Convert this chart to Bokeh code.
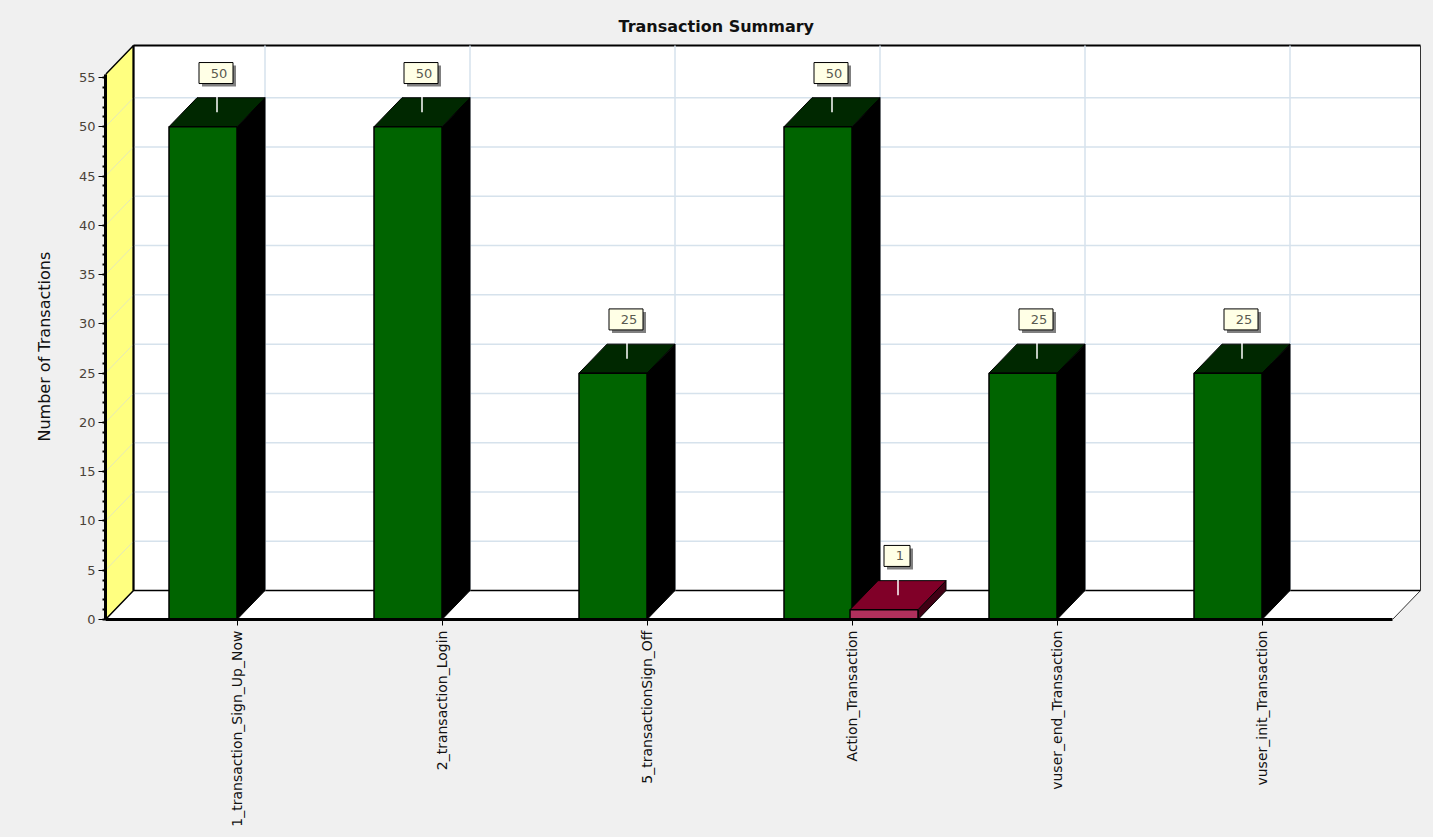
from bokeh.plotting import figure
from bokeh.models import Range1d, FixedTicker, SingleIntervalTicker, Title
from bokeh.core.properties import value
from bokeh.embed import file_html
from bokeh.resources import INLINE
import math

categories = ["1_transaction_Sign_Up_Now", "2_transaction_Login", "5_transactionSign_Off",
              "Action_Transaction", "vuser_end_Transaction", "vuser_init_Transaction"]
pass_counts = [50, 50, 25, 50, 25, 25]
fail_counts = [0, 0, 0, 1, 0, 0]
chart_title = "Transaction Summary"
y_title = "Number of Transactions"

BG = "#f0f0f0"
GRID = "#d6e2ec"
FONT = "DejaVu Sans"
PX_X = 205.0   # pixels per category
PX_Y = 9.855   # pixels per transaction
C0 = 236.5     # pixel of the first category
DX = 28 / PX_X
DY = 29 / PX_Y
BW = 68 / PX_X
XL = (105 - C0) / PX_X
XR = (1392 - C0) / PX_X
YT = 55.3

p = figure(width=1433, height=837, output_backend="svg", toolbar_location=None,
           x_range=Range1d(XL, (1425 - C0) / PX_X), y_range=Range1d(0, (619 - 40) / PX_Y),
           min_border_left=105, min_border_right=8, min_border_top=40, min_border_bottom=218,
           background_fill_color=BG, border_fill_color=BG, outline_line_color=None,
           title=None)
p.grid.visible = False

# walls and floor
p.patch([XL + DX, XR + DX, XR + DX, XL + DX], [DY, DY, YT + DY, YT + DY],
        fill_color="white", line_color=None)
p.patch([XL, XR, XR + DX, XL + DX], [0, 0, DY, DY], fill_color="white", line_color=None)
p.patch([XL, XL + DX, XL + DX, XL], [0, DY, YT + DY, YT],
        fill_color="#ffff80", line_color="black", line_width=1.5)

# grid
grid_vals = list(range(5, 55, 5))
p.segment([XL] * len(grid_vals), grid_vals, [XL + DX] * len(grid_vals), [g + DY for g in grid_vals],
          line_color="#e4e8b8", line_width=1)
grid_vals = list(range(5, 51, 5))
p.segment([XL + DX] * len(grid_vals), [g + DY for g in grid_vals],
          [XR + DX] * len(grid_vals), [g + DY for g in grid_vals], line_color=GRID, line_width=1.5)

# frame lines
p.segment([XL + DX, XL + DX, XR + DX, XR], [DY, YT + DY, DY, 0],
          [XR + DX, XR + DX, XR + DX, XR + DX], [DY, YT + DY, YT + DY, DY],
          line_color=["black", "black", "#333333", "#333333"],
          line_width=[1.5, 2, 1, 1])
p.segment([XL + DX], [DY], [XL + DX], [YT + DY], line_color="black", line_width=2)
cats_x = list(range(len(categories)))
p.segment([i + DX for i in cats_x], [DY] * len(cats_x), [i + DX for i in cats_x], [YT + DY] * len(cats_x),
          line_color=GRID, line_width=1.5)


def bar3d(x0, x1, v, front, top, side):
    p.patch([x1, x1 + DX, x1 + DX, x1], [0, DY, v + DY, v], fill_color=side, line_color="black", line_width=1)
    p.patch([x0, x1, x1 + DX, x0 + DX], [v, v, v + DY, v + DY], fill_color=top, line_color="black", line_width=1)
    p.patch([x0, x1, x1, x0], [0, 0, v, v], fill_color=front, line_color="black", line_width=1.5)


def callout(x0, x1, v):
    cx = (x0 + x1) / 2 + DX / 2
    label = str(v)
    w = 18 + 8 * len(label)
    by = v + 5.45
    p.segment([cx], [v + DY / 2], [cx], [by], line_color="white", line_width=1.5)
    p.rect([cx - 1 / PX_X + 3 / PX_X], [by - 3 / PX_Y], width=w, height=21,
           width_units="screen", height_units="screen", fill_color="#808080", line_color=None)
    p.rect([cx - 1 / PX_X], [by], width=w, height=21, width_units="screen", height_units="screen",
           fill_color="#ffffe6", line_color="black", line_width=1)
    p.text([cx], [by], text=[label], x_offset=2, text_align="center", text_baseline="middle",
           text_font=value(FONT), text_font_size="13px", text_color="#5a5a50")


for i, (ok, bad) in enumerate(zip(pass_counts, fail_counts)):
    if ok > 0:
        bar3d(i - BW, i, ok, "#006400", "#002800", "#000000")
    if bad > 0:
        bar3d(i - 2 / PX_X, i - 2 / PX_X + BW, bad, "#b0305c", "#800028", "#400014")
for i, (ok, bad) in enumerate(zip(pass_counts, fail_counts)):
    if ok > 0:
        callout(i - BW, i, ok)
    if bad > 0:
        callout(i - 2 / PX_X, i - 2 / PX_X + BW, bad)

# axes
xa = p.xaxis[0]
xa.ticker = FixedTicker(ticks=cats_x)
xa.major_label_overrides = {i: c for i, c in enumerate(categories)}
xa.major_label_orientation = math.pi / 2
xa.major_label_text_font = FONT
xa.major_label_text_font_size = "14px"
xa.major_label_text_color = "#111111"
xa.major_label_standoff = 5
xa.major_tick_in = 0
xa.major_tick_out = 6
xa.major_tick_line_color = "black"
xa.minor_tick_line_color = None
xa.axis_line_color = "black"
xa.axis_line_width = 3
xa.bounds = (XL, XR)

ya = p.yaxis[0]
ya.ticker = SingleIntervalTicker(interval=5, num_minor_ticks=5)
ya.bounds = (0, YT)
ya.axis_line_color = "black"
ya.axis_line_width = 3
ya.major_tick_in = 0
ya.major_tick_out = 7
ya.minor_tick_in = 0
ya.minor_tick_out = 3
ya.major_tick_line_color = "black"
ya.minor_tick_line_color = "black"
ya.minor_tick_line_width = 2
ya.major_label_text_font = FONT
ya.major_label_text_font_size = "13px"
ya.major_label_text_color = "#4a4238"
ya.major_label_standoff = 3

t_y = Title(text=y_title, align="left", offset=178, standoff=40, vertical_align="top",
            text_font=FONT, text_font_style="normal", text_font_size="16px", text_color="#111111")
p.add_layout(t_y, "left")

t = Title(text=chart_title, align="left", offset=513, text_font=FONT, text_font_style="bold",
          text_font_size="16px", text_color="#111111")
p.add_layout(t, "above")

html = file_html(p, INLINE)
html = html.replace("<head>", "<head><style>html,body{background:#f0f0f0}</style>", 1)
open("out.html", "w").write(html)
